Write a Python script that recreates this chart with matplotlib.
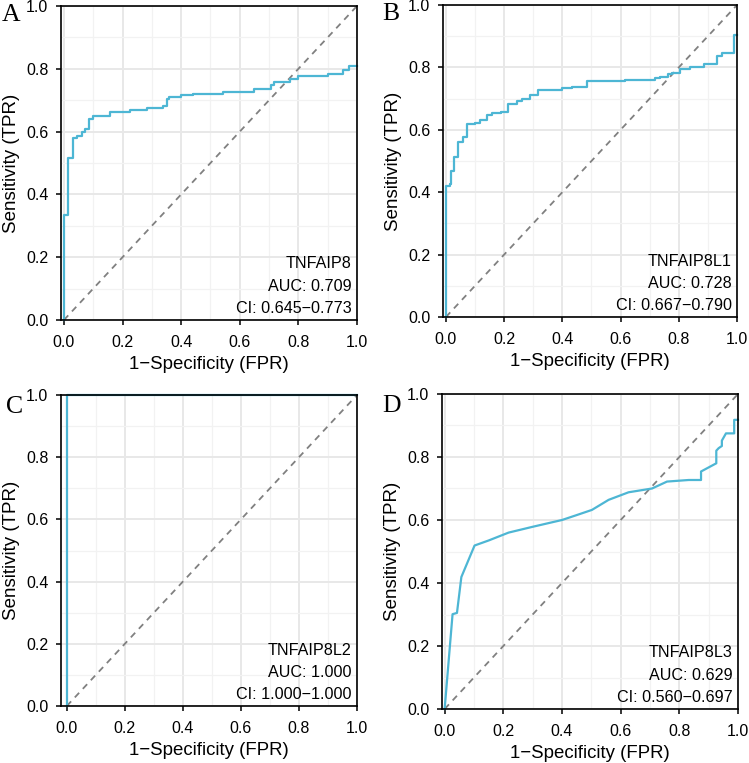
import matplotlib
matplotlib.use("Agg")
import matplotlib.pyplot as plt
from matplotlib.ticker import MultipleLocator, FuncFormatter

plt.rcParams['font.family'] = ['Liberation Sans', 'DejaVu Sans']

# ---------------- data ----------------
genes = ["TNFAIP8", "TNFAIP8L1", "TNFAIP8L2", "TNFAIP8L3"]
panel_letters = ["A", "B", "C", "D"]
auc_values = ["0.709", "0.728", "1.000", "0.629"]
ci_values = ["0.645\u22120.773", "0.667\u22120.790", "1.000\u22121.000", "0.560\u22120.697"]

fpr_A = [0, 0, 0.015, 0.03, 0.045, 0.06, 0.073, 0.084, 0.098, 0.157, 0.227, 0.283,
         0.339, 0.35, 0.36, 0.40, 0.44, 0.543, 0.65, 0.705, 0.716, 0.77, 0.80, 0.90,
         0.952, 0.973, 1.0]
tpr_A = [0, 0.335, 0.515, 0.58, 0.585, 0.60, 0.607, 0.64, 0.65, 0.663, 0.67, 0.676,
         0.683, 0.703, 0.711, 0.716, 0.721, 0.727, 0.737, 0.749, 0.757, 0.768, 0.778,
         0.784, 0.797, 0.808, 0.808]

fpr_B = [0, 0, 0.014, 0.017, 0.029, 0.042, 0.057, 0.073, 0.10, 0.117, 0.14, 0.157,
         0.19, 0.214, 0.243, 0.26, 0.289, 0.317, 0.40, 0.432, 0.484, 0.616, 0.72,
         0.736, 0.763, 0.776, 0.805, 0.84, 0.885, 0.931, 0.948, 0.989, 1.0]
tpr_B = [0, 0.42, 0.425, 0.467, 0.513, 0.56, 0.577, 0.618, 0.622, 0.633, 0.647, 0.653,
         0.658, 0.682, 0.692, 0.70, 0.711, 0.727, 0.733, 0.738, 0.756, 0.76, 0.765,
         0.770, 0.778, 0.782, 0.795, 0.80, 0.812, 0.838, 0.847, 0.905, 0.905]

fpr_C = [0, 0, 1.0]
tpr_C = [0, 1.0, 1.0]

fpr_D = [0, 0.027, 0.042, 0.057, 0.102, 0.15, 0.218, 0.298, 0.40, 0.445, 0.502, 0.559,
         0.627, 0.707, 0.758, 0.832, 0.874, 0.874, 0.906, 0.926, 0.926, 0.934, 0.945,
         0.945, 0.959, 0.987, 0.987, 1.0]
tpr_D = [0, 0.301, 0.305, 0.419, 0.519, 0.535, 0.56, 0.578, 0.60, 0.614, 0.632, 0.664,
         0.688, 0.70, 0.722, 0.727, 0.727, 0.754, 0.77, 0.78, 0.82, 0.828, 0.835,
         0.852, 0.875, 0.875, 0.918, 0.918]

curves = [(fpr_A, tpr_A, 'steps-post'), (fpr_B, tpr_B, 'steps-post'),
          (fpr_C, tpr_C, 'steps-post'), (fpr_D, tpr_D, 'default')]

# ---------------- layout ----------------
W, H = 749, 763
fig = plt.figure(figsize=(W / 100, H / 100), dpi=100)

# [left, top, right, bottom] pixel boxes of axes
boxes = [(61, 6, 357, 320), (443, 5, 737, 317), (61, 395, 357, 706), (442, 394, 738, 709)]
xmins = [-0.01, -0.01, -0.02, -0.009]
letter_pos = [(2, 21), (382, 20), (6, 413), (382, 412)]

line_color = '#4DB6D4'
grid_major = '#E8E8E8'
grid_minor = '#F2F2F2'
fmt = FuncFormatter(lambda v, p: f"{v:.1f}")

for i, (box, (fx, ty, ds)) in enumerate(zip(boxes, curves)):
    l, t, r, b = box
    ax = fig.add_axes([l / W, 1 - b / H, (r - l) / W, (b - t) / H])
    ax.set_xlim(xmins[i], 1.0)
    ax.set_ylim(0, 1.0)
    ax.xaxis.set_major_locator(MultipleLocator(0.2))
    ax.yaxis.set_major_locator(MultipleLocator(0.2))
    ax.xaxis.set_minor_locator(MultipleLocator(0.1))
    ax.yaxis.set_minor_locator(MultipleLocator(0.1))
    ax.grid(which='major', color=grid_major, linewidth=1.4, zorder=0)
    ax.grid(which='minor', color=grid_minor, linewidth=0.9, zorder=0)
    ax.set_axisbelow(True)
    ax.tick_params(which='minor', length=0)
    ax.tick_params(which='major', direction='out', length=3.6, width=1.1,
                   labelsize=11.5, color='black')
    ax.tick_params(axis='x', which='major', pad=7.5)
    ax.tick_params(axis='y', which='major', pad=5.5)
    ax.xaxis.set_major_formatter(fmt)
    ax.yaxis.set_major_formatter(fmt)
    for s in ax.spines.values():
        s.set_linewidth(1.2)
        s.set_color('black')
        s.set_zorder(4)

    ax.plot([0, 1], [0, 1], linestyle=(0, (3.5, 3)), color='#808080', linewidth=1.3, zorder=2)
    ax.plot(fx, ty, drawstyle=ds, color=line_color, linewidth=1.6, zorder=3, clip_on=False)

    ax.set_xlabel("1\u2212Specificity (FPR)", fontsize=13.4, labelpad=4)
    ax.set_ylabel("Sensitivity (TPR)", fontsize=13.5, labelpad=4.5)

    ax.text(0.982, 0.165, genes[i], ha='right', va='baseline', fontsize=11.6)
    ax.text(0.982, 0.093, f"AUC: {auc_values[i]}", ha='right', va='baseline', fontsize=11.6)
    ax.text(0.982, 0.021, f"CI: {ci_values[i]}", ha='right', va='baseline', fontsize=11.6)

    lx, ly = letter_pos[i]
    fig.text(lx / W, 1 - ly / H, panel_letters[i], fontsize=18.5,
             family=['Liberation Serif', 'DejaVu Serif'], ha='left', va='baseline')

fig.savefig("out.png", dpi=100, facecolor='white')
